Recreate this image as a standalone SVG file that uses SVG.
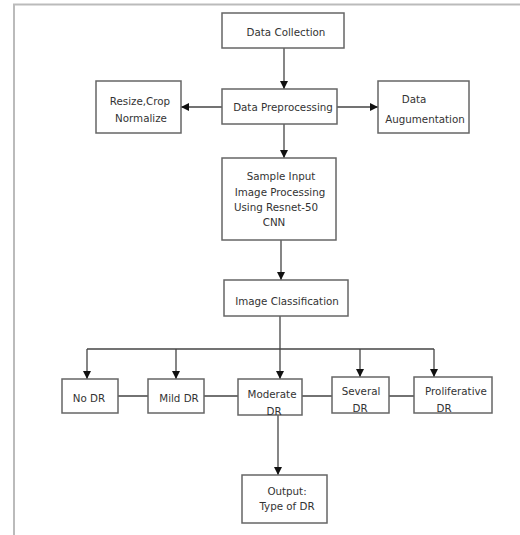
<svg xmlns="http://www.w3.org/2000/svg" width="520" height="535" viewBox="0 0 520 535">
<style>
.box{fill:#fff;stroke:#666;stroke-width:1.5}
.t{font-family:"DejaVu Sans",Verdana,sans-serif;font-size:10.3px;fill:#333;text-anchor:middle}
.c{fill:none;stroke:#444;stroke-width:1.3}
.frame{fill:none;stroke:#bbb;stroke-width:2}
</style>
<defs>
<marker id="ah" viewBox="0 0 10 10" refX="10" refY="5" markerWidth="8" markerHeight="8" markerUnits="userSpaceOnUse" orient="auto">
<path d="M0,0 L10,5 L0,10 z" fill="#111"/>
</marker>
</defs>
<rect width="520" height="535" fill="#fff"/>
<path class="frame" d="M14,535 V4.5 H520"/>
<g id="connectors">
<path class="c" d="M284,48 V89" marker-end="url(#ah)"/>
<path class="c" d="M222,107 H181" marker-end="url(#ah)"/>
<path class="c" d="M337,107 H378" marker-end="url(#ah)"/>
<path class="c" d="M284,124 V158" marker-end="url(#ah)"/>
<path class="c" d="M281,240 V280" marker-end="url(#ah)"/>
<path class="c" d="M280,316 V379" marker-end="url(#ah)"/>
<path class="c" d="M87,349 H434"/>
<path class="c" d="M87,349 V379" marker-end="url(#ah)"/>
<path class="c" d="M176,349 V379" marker-end="url(#ah)"/>
<path class="c" d="M360,349 V377" marker-end="url(#ah)"/>
<path class="c" d="M434,349 V377" marker-end="url(#ah)"/>
<path class="c" d="M118,396 H148 M204,396 H238 M302,396 H332 M389,396 H414"/>
<path class="c" d="M278,415 V475" marker-end="url(#ah)"/>
</g>
<g id="data-collection"><rect class="box" x="222" y="13" width="122" height="35"/><text class="t" x="286" y="35.5">Data Collection</text></g>
<g id="data-preprocessing"><rect class="box" x="222" y="89" width="115" height="35"/><text class="t" x="283" y="111">Data Preprocessing</text></g>
<g id="resize-crop"><rect class="box" x="96" y="81" width="85" height="52"/><text class="t" x="140" y="105">Resize,Crop</text><text class="t" x="141" y="122">Normalize</text></g>
<g id="data-augmentation"><rect class="box" x="378" y="81" width="91" height="52"/><text class="t" x="414" y="103">Data</text><text class="t" x="425" y="122.5">Augumentation</text></g>
<g id="sample-input"><rect class="box" x="222" y="158" width="114" height="82"/><text class="t" x="281" y="179.5">Sample Input</text><text class="t" x="280" y="196">Image Processing</text><text class="t" x="276" y="210.5">Using Resnet-50</text><text class="t" x="274" y="226">CNN</text></g>
<g id="image-classification"><rect class="box" x="224" y="280" width="124" height="36"/><text class="t" x="287" y="304.5">Image Classification</text></g>
<g id="no-dr"><rect class="box" x="62" y="379" width="56" height="34"/><text class="t" x="89" y="401.5">No DR</text></g>
<g id="mild-dr"><rect class="box" x="148" y="379" width="56" height="34"/><text class="t" x="179" y="401.5">Mild DR</text></g>
<g id="moderate-dr"><rect class="box" x="238" y="379" width="64" height="36"/><text class="t" x="272" y="398">Moderate</text><text class="t" x="274" y="414.5">DR</text></g>
<g id="several-dr"><rect class="box" x="332" y="377" width="57" height="36"/><text class="t" x="361" y="395">Several</text><text class="t" x="360" y="411.5">DR</text></g>
<g id="proliferative-dr"><rect class="box" x="414" y="377" width="78" height="36"/><text class="t" x="456" y="395">Proliferative</text><text class="t" x="444" y="411.5">DR</text></g>
<g id="output"><rect class="box" x="242" y="475" width="85" height="48"/><text class="t" x="287" y="495">Output:</text><text class="t" x="287" y="510">Type of DR</text></g>
</svg>
